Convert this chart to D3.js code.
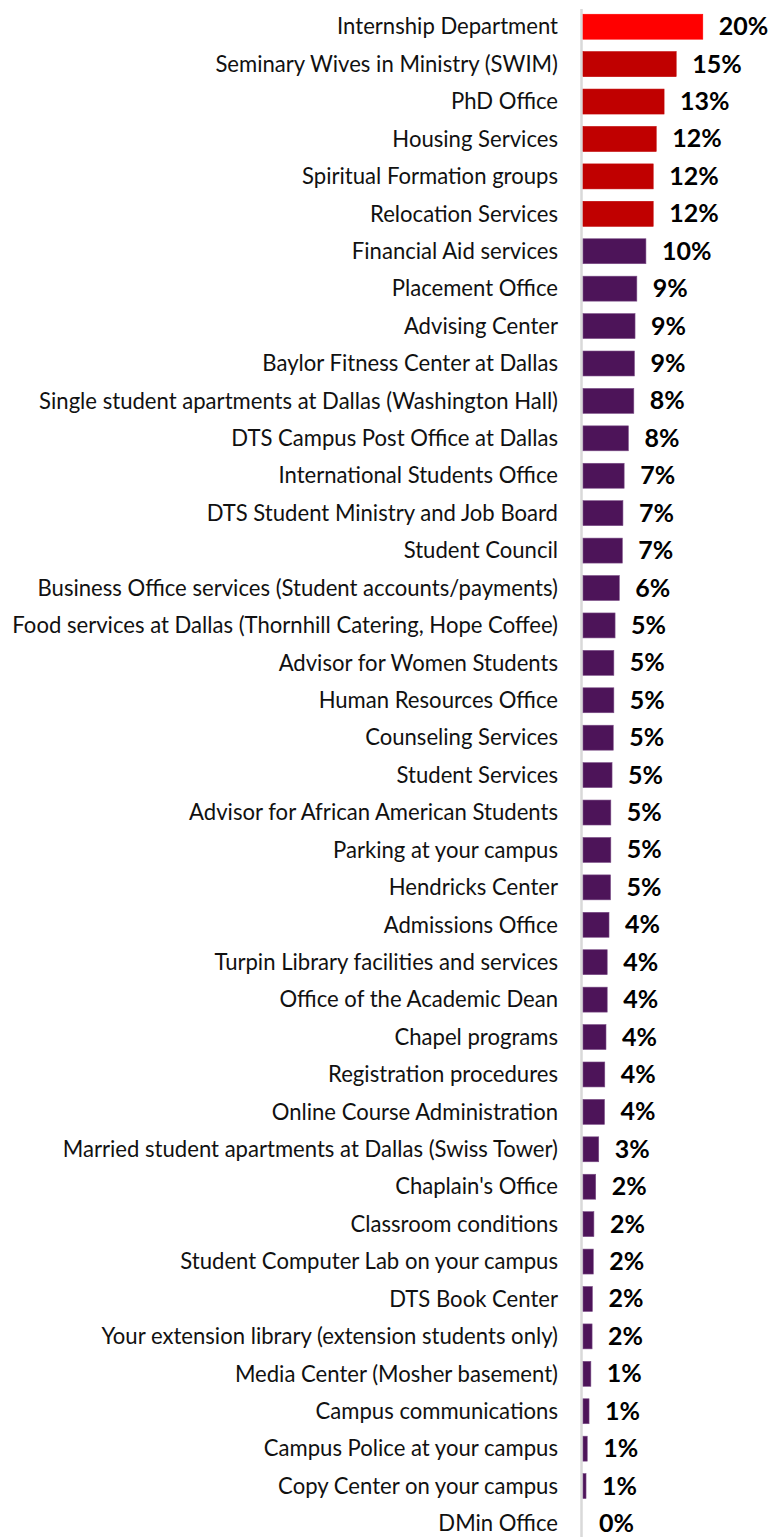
<!DOCTYPE html>
<html>
<head>
<meta charset="utf-8">
<script src="https://cdn.jsdelivr.net/npm/d3@7"></script>
<style>
  html, body { margin: 0; padding: 0; background: #fff; }
  svg { display: block; }
</style>
</head>
<body>
<div id="chart"></div>
<script>
// Service areas, top to bottom
const categories = [
  "Internship Department",
  "Seminary Wives in Ministry (SWIM)",
  "PhD Office",
  "Housing Services",
  "Spiritual Formation groups",
  "Relocation Services",
  "Financial Aid services",
  "Placement Office",
  "Advising Center",
  "Baylor Fitness Center at Dallas",
  "Single student apartments at Dallas (Washington Hall)",
  "DTS Campus Post Office at Dallas",
  "International Students Office",
  "DTS Student Ministry and Job Board",
  "Student Council",
  "Business Office services (Student accounts/payments)",
  "Food services at Dallas (Thornhill Catering, Hope Coffee)",
  "Advisor for Women Students",
  "Human Resources Office",
  "Counseling Services",
  "Student Services",
  "Advisor for African American Students",
  "Parking at your campus",
  "Hendricks Center",
  "Admissions Office",
  "Turpin Library facilities and services",
  "Office of the Academic Dean",
  "Chapel programs",
  "Registration procedures",
  "Online Course Administration",
  "Married student apartments at Dallas (Swiss Tower)",
  "Chaplain's Office",
  "Classroom conditions",
  "Student Computer Lab on your campus",
  "DTS Book Center",
  "Your extension library (extension students only)",
  "Media Center (Mosher basement)",
  "Campus communications",
  "Campus Police at your campus",
  "Copy Center on your campus",
  "DMin Office"
];

// Share of respondents (%)
const values = [
  19.8, 15.4, 13.4, 12.1, 11.6, 11.6, 10.4, 8.9, 8.6, 8.5,
  8.4, 7.5, 6.8, 6.6, 6.5, 6.0, 5.3, 5.1, 5.1, 5.0,
  4.8, 4.6, 4.6, 4.55, 4.3, 4.0, 4.0, 3.8, 3.6, 3.55,
  2.6, 2.1, 1.8, 1.7, 1.55, 1.5, 1.3, 1.0, 0.7, 0.5,
  0.0
];

// Colour groups: top item, next tier, the rest
const groups = [
  "top", "high", "high", "high", "high", "high",
  "base", "base", "base", "base", "base", "base", "base", "base", "base",
  "base", "base", "base", "base", "base", "base", "base", "base", "base",
  "base", "base", "base", "base", "base", "base", "base", "base", "base",
  "base", "base", "base", "base", "base", "base", "base", "base"
];

const groupColors = { top: "#FF0000", high: "#C00000", base: "#4D1459" };
const groupStroke = { top: "#FF0000", high: "#C00000", base: "#7B4E87" };

const data = categories.map((c, i) => ({ name: c, value: values[i], group: groups[i] }));

const W = 771, H = 1537;
const svg = d3.select("#chart").append("svg")
  .attr("width", W).attr("height", H);

const x = d3.scaleLinear().domain([0, 30]).range([583, 583 + 181.5]);
const step = 37.42;
const y = d3.scaleBand()
  .domain(categories)
  .range([8, 8 + categories.length * step])
  .paddingInner(0.333)
  .paddingOuter(0.1667);

// Baseline
svg.append("line")
  .attr("x1", x(0) - 1.5).attr("x2", x(0) - 1.5)
  .attr("y1", 9).attr("y2", H)
  .attr("stroke", "#D9D9D9").attr("stroke-width", 2.5);

// Bars
svg.append("g").selectAll("rect")
  .data(data.filter(d => d.value > 0))
  .join("rect")
  .attr("x", x(0))
  .attr("y", d => y(d.name))
  .attr("width", d => x(d.value) - x(0))
  .attr("height", y.bandwidth())
  .attr("fill", d => groupColors[d.group])
  .attr("stroke", d => groupStroke[d.group])
  .attr("stroke-width", 0.6);

// Category labels
svg.append("g").selectAll("text")
  .data(data)
  .join("text")
  .attr("x", 558)
  .attr("y", d => y(d.name) + y.bandwidth() / 2)
  .attr("dy", "0.35em")
  .attr("text-anchor", "end")
  .attr("font-family", "Lato, 'Open Sans', sans-serif")
  .attr("font-size", 22.1)
  .attr("fill", "#111")
  .text(d => d.name);

// Value labels
const fmt = v => Math.round(v) + "%";
svg.append("g").selectAll("text")
  .data(data)
  .join("text")
  .attr("x", d => x(d.value) + 16)
  .attr("y", d => y(d.name) + y.bandwidth() / 2)
  .attr("dy", "0.34em")
  .attr("font-family", "Lato, 'Open Sans', sans-serif")
  .attr("font-weight", "bold")
  .attr("font-size", 25)
  .attr("fill", "#000")
  .text(d => fmt(d.value));
</script>
</body>
</html>
